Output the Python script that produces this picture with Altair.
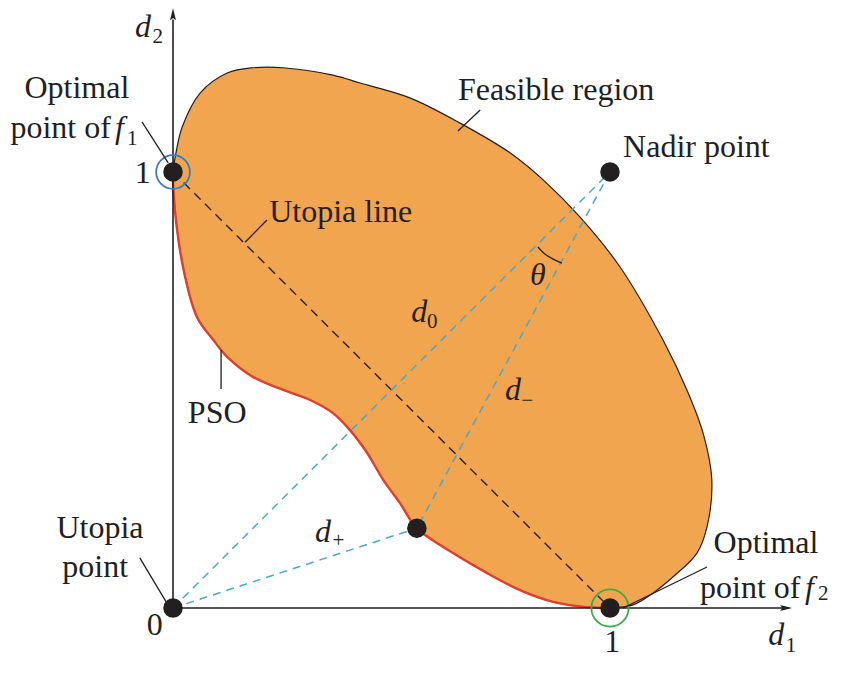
import altair as alt
import pandas as pd

X_DOMAIN = [-0.3776, 1.5103]
Y_DOMAIN = [-0.1193, 1.3761]

ORANGE = "#F0A54E"
INK = "#231f20"
RED = "#E0402A"
BLUE = "#46A9CF"

# Feasible region boundary, from the optimal point of f2, up the right side, over the top, to the optimal point of f1
top_x = [1.000, 1.053, 1.098, 1.144, 1.199, 1.222, 1.233, 1.213, 1.176, 1.121, 1.023, 0.931, 0.847,
         0.771, 0.657, 0.542, 0.428, 0.366, 0.252, 0.183, 0.124, 0.062, 0.021, 0.005, 0.000]
top_y = [0.000, 0.007, 0.034, 0.071, 0.126, 0.186, 0.294, 0.401, 0.500, 0.615, 0.782, 0.897, 0.982,
         1.044, 1.112, 1.170, 1.204, 1.222, 1.239, 1.239, 1.227, 1.181, 1.103, 1.034, 1.000]
# Pareto front (PSO), from optimal point of f1 to optimal point of f2
pso_x = [0.000, 0.001, 0.023, 0.055, 0.092, 0.124, 0.183, 0.252, 0.314, 0.366, 0.405, 0.444, 0.481,
         0.519, 0.558, 0.641, 0.719, 0.794, 0.870, 0.947, 1.000]
pso_y = [1.000, 0.952, 0.782, 0.667, 0.615, 0.576, 0.530, 0.500, 0.477, 0.447, 0.408, 0.356, 0.294,
         0.241, 0.183, 0.126, 0.080, 0.041, 0.014, 0.002, 0.000]

# key points: f1 optimum, utopia, f2 optimum, nadir, PSO solution
pt_x = [0.0, 0.0, 1.0, 1.0, 0.558]
pt_y = [1.0, 0.0, 0.0, 1.0, 0.183]

# segments (x1, y1, x2, y2)
axis_seg = [(0, 0, 0, 1.350), (0, 0, 1.395, 0)]
utopia_seg = [(0, 1, 1, 0)]
blue_seg = [(0, 0, 1, 1), (0, 0, 0.558, 0.183), (1, 1, 0.558, 0.183)]
leader_seg = [(-0.071, 1.115, -0.011, 1.021), (0.165, 0.839, 0.215, 0.890), (0.652, 1.094, 0.703, 1.142),
              (0.110, 0.592, 0.110, 0.502), (-0.076, 0.115, -0.014, 0.011), (1.030, 0.000, 1.222, 0.094)]
theta_x = [0.835, 0.851, 0.870, 0.890]
theta_y = [0.828, 0.812, 0.800, 0.791]

# labels
c_text = ["Optimal", "Utopia", "point", "Optimal", "1", "0", "1"]
c_x = [-0.220, -0.167, -0.178, 1.357, -0.069, -0.042, 1.005]
c_y = [1.170, 0.161, 0.071, 0.126, 0.975, -0.062, -0.102]

l_text = ["point of", "Utopia line", "Feasible region", "Nadir point", "PSO", "point of"]
l_x = [-0.372, 0.220, 0.652, 1.030, 0.034, 1.206]
l_y = [1.078, 0.885, 1.165, 1.034, 0.424, 0.023]

i_text = ["d", "f", "θ", "d", "d", "d", "f", "d"]
i_x = [-0.087, -0.133, 0.817, 0.545, 0.760, 0.325, 1.446, 1.362]
i_y = [1.309, 1.078, 0.741, 0.656, 0.477, 0.151, 0.023, -0.085]

s_text = ["2", "1", "0", "1", "2", "+", "−"]
s_x = [-0.047, -0.105, 0.581, 1.402, 1.476, 0.365, 0.797]
s_y = [1.295, 1.062, 0.642, -0.101, 0.018, 0.140, 0.461]

xs = alt.Scale(domain=X_DOMAIN, nice=False, zero=False)
ys = alt.Scale(domain=Y_DOMAIN, nice=False, zero=False)


def X(f="x"):
    return alt.X(f"{f}:Q", scale=xs, axis=None)


def Y(f="y"):
    return alt.Y(f"{f}:Q", scale=ys, axis=None)


def seg_df(segs):
    return pd.DataFrame(segs, columns=["x", "y", "x2", "y2"])


def rules(segs, **kw):
    return alt.Chart(seg_df(segs)).mark_rule(**kw).encode(
        x=X(), y=Y(), x2=alt.X2("x2:Q"), y2=alt.Y2("y2:Q"))


region_x = top_x + pso_x[1:]
region_y = top_y + pso_y[1:]
region_df = pd.DataFrame({"x": region_x, "y": region_y, "o": list(range(len(region_x)))})
region = alt.Chart(region_df).mark_line(
    fill=ORANGE, stroke=INK, strokeWidth=1.2, interpolate="catmull-rom"
).encode(x=X(), y=Y(), order="o:Q")

pso_df = pd.DataFrame({"x": pso_x, "y": pso_y, "o": list(range(len(pso_x)))})
pso = alt.Chart(pso_df).mark_line(stroke=RED, strokeWidth=2.4, interpolate="catmull-rom").encode(
    x=X(), y=Y(), order="o:Q")

utopia = rules(utopia_seg, color=INK, strokeWidth=1.4, strokeDash=[9, 6])
blue = rules(blue_seg, color=BLUE, strokeWidth=1.5, strokeDash=[8, 6])
axes = rules(axis_seg, color=INK, strokeWidth=1.6)
leaders = rules(leader_seg, color=INK, strokeWidth=1.3)

ARROW = "M0,-1L0.5,1L0,0.65L-0.5,1Z"
arrow_up = alt.Chart(pd.DataFrame({"x": [0.0], "y": [1.362]})).mark_point(
    shape=ARROW, size=144, filled=True, color=INK, opacity=1).encode(x=X(), y=Y())
arrow_right = alt.Chart(pd.DataFrame({"x": [1.403], "y": [0.0]})).mark_point(
    shape=ARROW, size=144, filled=True, color=INK, opacity=1, angle=90).encode(x=X(), y=Y())

theta_df = pd.DataFrame({"x": theta_x, "y": theta_y, "o": list(range(len(theta_x)))})
theta_arc = alt.Chart(theta_df).mark_line(stroke=INK, strokeWidth=1.3, interpolate="catmull-rom").encode(
    x=X(), y=Y(), order="o:Q")

ring_blue = alt.Chart(pd.DataFrame({"x": [pt_x[0]], "y": [pt_y[0]]})).mark_point(
    shape="circle", filled=False, size=1134, color="#3A7DC0", strokeWidth=1.8, opacity=1).encode(x=X(), y=Y())
ring_green = alt.Chart(pd.DataFrame({"x": [pt_x[2]], "y": [pt_y[2]]})).mark_point(
    shape="circle", filled=False, size=1385, color="#3BAA4A", strokeWidth=1.8, opacity=1).encode(x=X(), y=Y())

dots = alt.Chart(pd.DataFrame({"x": pt_x, "y": pt_y})).mark_circle(
    size=380, color=INK, opacity=1).encode(x=X(), y=Y())


def texts(t, x, y, **kw):
    df = pd.DataFrame({"t": t, "x": x, "y": y})
    return alt.Chart(df).mark_text(font="Liberation Serif", baseline="alphabetic", color=INK, **kw).encode(
        x=X(), y=Y(), text="t:N")


t_center = texts(c_text, c_x, c_y, fontSize=32, align="center")
t_left = texts(l_text, l_x, l_y, fontSize=32, align="left")
t_ital = texts(i_text, i_x, i_y, fontSize=32, align="left", fontStyle="italic")
t_sub = texts(s_text, s_x, s_y, fontSize=21, align="left")

chart = alt.layer(
    region, pso, utopia, blue, axes, arrow_up, arrow_right, ring_blue, ring_green, dots,
    leaders, theta_arc, t_center, t_left, t_ital, t_sub
).properties(
    width=825, height=652, autosize=alt.AutoSizeParams(type="none"), padding=0
).configure_view(stroke=None)

chart.save("out.html", embed_options={"renderer": "svg", "actions": False})
